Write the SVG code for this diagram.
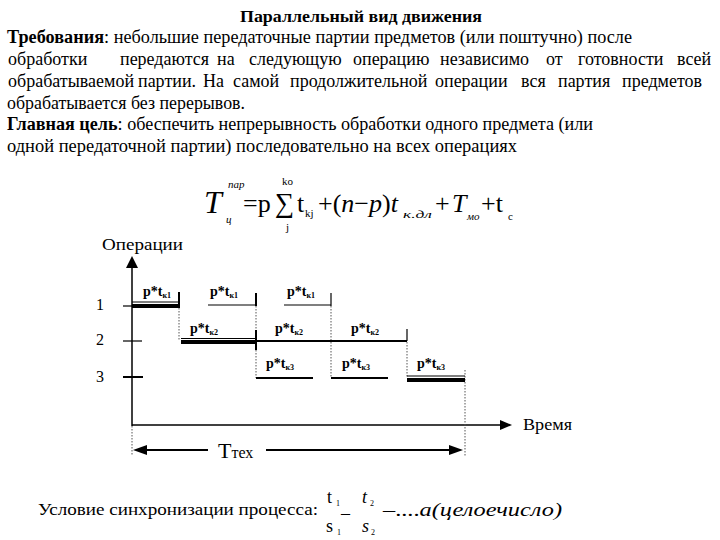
<svg xmlns="http://www.w3.org/2000/svg" width="720" height="540" viewBox="0 0 720 540" font-family="'Liberation Serif','DejaVu Serif',serif">
<style>
text{font-family:'Liberation Serif','DejaVu Serif',serif;fill:#000}
.body{font-size:18px}
.b{font-weight:bold}
.lbl{font-size:14px;font-weight:bold}
.sub{font-size:8px}
.ax{stroke:#000;stroke-width:1.5;fill:none}
.thin{stroke:#000;stroke-width:1.2;fill:none}
.med{stroke:#000;stroke-width:2;fill:none}
.thick{stroke:#000;stroke-width:4;fill:none}
.dot{stroke:#555;stroke-width:1;stroke-dasharray:1.5 1.5;fill:none}
.f{font-size:26px}
.fs{font-size:11px}
.i{font-style:italic}
</style>
<rect width="720" height="540" fill="#fff"/>

<g id="header">
<text x="361" y="22" text-anchor="middle" class="b" font-size="16" textLength="242" lengthAdjust="spacingAndGlyphs">Параллельный вид движения</text>
<text x="7" y="43" class="body" textLength="625" lengthAdjust="spacingAndGlyphs"><tspan class="b">Требования</tspan>: небольшие передаточные партии предметов (или поштучно) после</text>
<text y="65" class="body"><tspan x="8">обработки</tspan><tspan x="120">передаются</tspan><tspan x="217">на</tspan><tspan x="249">следующую</tspan><tspan x="353">операцию</tspan><tspan x="440">независимо</tspan><tspan x="546">от</tspan><tspan x="578">готовности</tspan><tspan x="677">всей</tspan></text>
<text y="87" class="body"><tspan x="8">обрабатываемой</tspan><tspan x="138">партии.</tspan><tspan x="203">На</tspan><tspan x="233">самой</tspan><tspan x="290">продолжительной</tspan><tspan x="435">операции</tspan><tspan x="521">вся</tspan><tspan x="558">партия</tspan><tspan x="622">предметов</tspan></text>
<text x="7" y="109" class="body" textLength="238" lengthAdjust="spacingAndGlyphs">обрабатывается без перерывов.</text>
<text x="7" y="130" class="body" textLength="586" lengthAdjust="spacingAndGlyphs"><tspan class="b">Главная цель</tspan>: обеспечить непрерывность обработки одного предмета (или</text>
<text x="7" y="152" class="body" textLength="510" lengthAdjust="spacingAndGlyphs">одной передаточной партии) последовательно на всех операциях</text>
</g>

<g id="formula">
<text x="204" y="213" font-size="32" class="i">T</text>
<text x="228" y="188" class="fs i">пар</text>
<text x="226" y="223" class="fs i">ц</text>
<text x="243" y="212" class="f">=p</text>
<text x="275" y="212" font-size="27">∑</text>
<text x="282" y="185" class="fs">ko</text>
<text x="286" y="231" class="fs">j</text>
<text x="297" y="212" class="f">t</text>
<text x="305" y="217" class="fs">kj</text>
<text x="318" y="212" class="f">+(<tspan class="i">n</tspan>−<tspan class="i">p</tspan>)<tspan class="i">t</tspan></text>
<text x="403" y="218" class="fs i" textLength="29" lengthAdjust="spacingAndGlyphs">к.дл</text>
<text x="435" y="212" class="f">+</text>
<text x="452" y="212" class="f i">T</text>
<text x="467" y="220" class="fs i">мо</text>
<text x="481" y="212" class="f">+t</text>
<text x="508" y="220" class="fs">c</text>
</g>

<g id="axes">
<line class="ax" x1="132" y1="266" x2="132" y2="426"/>
<polygon points="132,256 126,268 138,268" fill="#000"/>
<line class="ax" x1="132" y1="425" x2="502" y2="425"/>
<polygon points="512,425 500,420 500,430" fill="#000"/>
<text x="102" y="250" font-size="16" textLength="81" lengthAdjust="spacingAndGlyphs">Операции</text>
<text x="523" y="430" font-size="16" textLength="49" lengthAdjust="spacingAndGlyphs">Время</text>
<text x="96" y="310" font-size="16">1</text>
<text x="96" y="345" font-size="16">2</text>
<text x="96" y="382" font-size="16">3</text>
<line class="thin" x1="123" y1="306" x2="132" y2="306"/>
<line class="thin" x1="123" y1="341" x2="142" y2="341"/>
<line class="med" x1="123" y1="377" x2="143" y2="377" stroke-width="2.5"/>
</g>

<g id="connectors">
<line class="dot" x1="179" y1="308" x2="179" y2="340"/>
<line class="dot" x1="256" y1="306" x2="256" y2="331"/>
<line class="dot" x1="256" y1="350" x2="256" y2="378"/>
<line class="dot" x1="331" y1="306" x2="331" y2="378"/>
<line class="dot" x1="407" y1="342" x2="407" y2="378"/>
<line class="dot" x1="465" y1="370" x2="465" y2="456"/>
<line class="dot" x1="132" y1="426" x2="132" y2="456"/>
</g>

<g id="op1">
<line class="thin" x1="132" y1="302" x2="179" y2="302"/>
<line class="thick" x1="132" y1="306" x2="179" y2="306"/>
<line class="med" x1="179" y1="292" x2="179" y2="308"/>
<line class="thin" x1="208" y1="305" x2="256" y2="305"/>
<line class="med" x1="256" y1="293" x2="256" y2="306"/>
<line class="thin" x1="284" y1="305" x2="331" y2="305"/>
<line class="thin" x1="331" y1="293" x2="331" y2="306"/>
<text x="143" y="296" class="lbl">p*t<tspan class="sub" dy="2">к1</tspan></text>
<text x="210" y="296" class="lbl">p*t<tspan class="sub" dy="2">к1</tspan></text>
<text x="287" y="296" class="lbl">p*t<tspan class="sub" dy="2">к1</tspan></text>
</g>

<g id="op2">
<line class="thin" x1="181" y1="338.5" x2="256" y2="338.5"/>
<line class="thick" x1="181" y1="342" x2="256" y2="342"/>
<line class="med" x1="256" y1="330" x2="256" y2="350"/>
<line class="med" x1="256" y1="341" x2="407" y2="341"/>
<line class="thin" x1="407" y1="329" x2="407" y2="341"/>
<text x="190" y="333" class="lbl">p*t<tspan class="sub" dy="2">к2</tspan></text>
<text x="275" y="333" class="lbl">p*t<tspan class="sub" dy="2">к2</tspan></text>
<text x="351" y="333" class="lbl">p*t<tspan class="sub" dy="2">к2</tspan></text>
</g>

<g id="op3">
<line class="med" x1="256" y1="378" x2="313" y2="378"/>
<line class="med" x1="331" y1="378" x2="388" y2="378"/>
<line class="thin" x1="407" y1="376" x2="465" y2="376"/>
<line class="thick" x1="407" y1="380" x2="465" y2="380"/>
<text x="266" y="368" class="lbl">p*t<tspan class="sub" dy="2">к3</tspan></text>
<text x="342" y="368" class="lbl">p*t<tspan class="sub" dy="2">к3</tspan></text>
<text x="417" y="368" class="lbl">p*t<tspan class="sub" dy="2">к3</tspan></text>
</g>

<g id="ttex">
<line class="med" x1="145" y1="450" x2="208" y2="450"/>
<polygon points="133,450 147,445 147,455" fill="#000"/>
<text x="218" y="458" font-size="22">Т<tspan font-size="16">тех</tspan></text>
<line class="med" x1="266" y1="450" x2="451" y2="450"/>
<polygon points="463,450 449,445 449,455" fill="#000"/>
</g>

<g id="condition">
<text x="38" y="515" font-size="17" textLength="280" lengthAdjust="spacingAndGlyphs">Условие синхронизации процесса:</text>
<text x="327" y="503" font-size="18">t</text>
<text x="336" y="506" font-size="8">1</text>
<text x="326" y="532" font-size="18">s</text>
<text x="337" y="535" font-size="8">1</text>
<text x="341" y="513" font-size="18">_</text>
<text x="362" y="503" font-size="18" class="i">t</text>
<text x="370" y="506" font-size="8">2</text>
<text x="362" y="532" font-size="18" class="i">s</text>
<text x="371" y="535" font-size="8">2</text>
<text x="383" y="516" font-size="19" textLength="179" lengthAdjust="spacingAndGlyphs">–....<tspan class="i">a(целоечисло)</tspan></text>
</g>
</svg>
